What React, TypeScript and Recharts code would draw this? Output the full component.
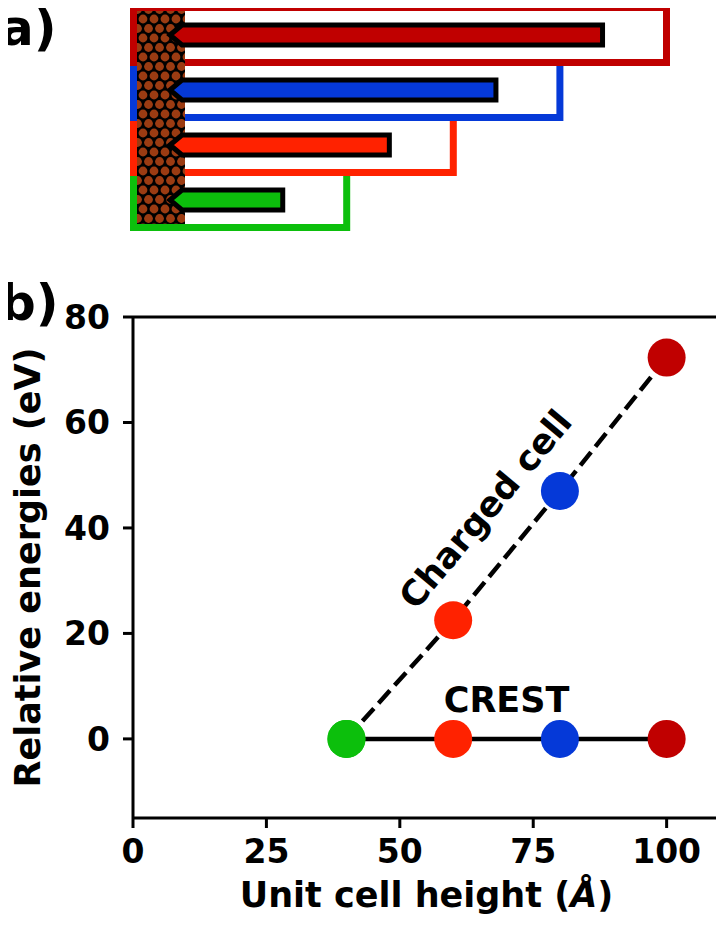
import React from "react";
import {
  BarChart,
  Bar,
  ComposedChart,
  Line,
  Scatter,
  XAxis,
  YAxis,
  ReferenceLine,
  ReferenceDot,
} from "recharts";

// unit cell heights (Å), bottom to top in panel a
const cellHeights = [40, 60, 80, 100];
// length of the arrow drawn inside each cell (Å)
const arrowLengths = [28, 48, 68, 88];
const cellColors = ["#0cbf0c", "#ff2200", "#0539d8", "#c00000"];

// panel b series
const chargedEnergies = [0, 22.5, 47, 72.3];
const crestEnergies = [0, 0, 0, 0];

const xTicks = [0, 25, 50, 75, 100];
const yTicks = [0, 20, 40, 60, 80];

const font = "DejaVu Sans";

const cells = cellHeights.map((h, i) => ({
  cell: h,
  arrow: arrowLengths[i],
  color: cellColors[i],
}));
const charged = cellHeights.map((h, i) => ({ x: h, y: chargedEnergies[i] }));
const crest = cellHeights.map((h, i) => ({ x: h, y: crestEnergies[i] }));
const dots = [
  ...cellHeights.map((h, i) => ({ x: h, y: chargedEnergies[i], color: cellColors[i] })),
  ...cellHeights.map((h, i) => ({ x: h, y: crestEnergies[i], color: cellColors[i] })),
];

function CellBox(props: any) {
  const { x, y, width, height, index, payload } = props;
  const half = 3.5;
  const mid = y + height / 2;
  const right = x + (width * payload.arrow) / payload.cell;
  const hatchTop = y + half;
  const hatchBottom = index === 0 ? y + height - half : y + height + half;
  const pts = [
    [x + 36.5, mid],
    [x + 48.5, mid - 10],
    [right, mid - 10],
    [right, mid + 10],
    [x + 48.5, mid + 10],
  ]
    .map((p) => p.join(","))
    .join(" ");
  return (
    <g>
      <rect x={x} y={y} width={width} height={height} fill="none" stroke={payload.color} strokeWidth={7} />
      <rect x={x + 3.5} y={hatchTop} width={48} height={hatchBottom - hatchTop} fill="url(#electrode)" />
      <polygon points={pts} fill={payload.color} stroke="#000" strokeWidth={5} strokeLinejoin="miter" />
    </g>
  );
}

function Dot(props: any) {
  const { cx, cy, payload } = props;
  return <circle cx={cx} cy={cy} r={19} fill={payload.color} />;
}

function XLabel(props: any) {
  const vb = props.viewBox;
  return (
    <text
      x={vb.x + vb.width / 2}
      y={vb.y + vb.height - 30}
      textAnchor="middle"
      fontFamily={font}
      fontWeight="bold"
      fontSize={35}
      fill="#000"
    >
      Unit cell height (<tspan fontStyle="italic">Å</tspan>)
    </text>
  );
}

const tickStyle = { fill: "#000", fontSize: 33, fontWeight: "bold", fontFamily: font };

export default function App() {
  return (
    <div style={{ position: "relative", width: 724, height: 937, margin: -8, overflow: "hidden", background: "#fff" }}>
      <div style={{ position: "absolute", left: 0, top: 0 }}>
        <BarChart
          width={724}
          height={240}
          data={cells}
          layout="vertical"
          barCategoryGap={0}
          margin={{ top: 7.5, right: 4.2, bottom: 12.5, left: 133.5 }}
        >
          <defs>
            <pattern id="electrode" patternUnits="userSpaceOnUse" width={11} height={19}>
              <rect width={11} height={19} fill="#000" />
              <circle cx={0} cy={0} r={4.4} fill="#9b3b12" />
              <circle cx={11} cy={0} r={4.4} fill="#9b3b12" />
              <circle cx={5.5} cy={9.5} r={4.4} fill="#9b3b12" />
              <circle cx={0} cy={19} r={4.4} fill="#9b3b12" />
              <circle cx={11} cy={19} r={4.4} fill="#9b3b12" />
            </pattern>
          </defs>
          <XAxis type="number" domain={[0, 110]} hide />
          <YAxis type="category" dataKey="cell" reversed hide />
          <Bar dataKey="cell" shape={<CellBox />} isAnimationActive={false} />
        </BarChart>
      </div>

      <div style={{ position: "absolute", left: 0, top: 0 }}>
        <ComposedChart width={724} height={937} margin={{ top: 317, right: 4, bottom: 0, left: 0 }}>
          <XAxis
            type="number"
            dataKey="x"
            domain={[0, 110]}
            ticks={xTicks}
            interval={0}
            height={119}
            tick={tickStyle}
            tickSize={10}
            tickMargin={12}
            axisLine={{ stroke: "#000", strokeWidth: 3 }}
            tickLine={{ stroke: "#000", strokeWidth: 3 }}
            label={(p: any) => <XLabel {...p} />}
          />
          <YAxis
            type="number"
            domain={[-15, 80]}
            ticks={yTicks}
            interval={0}
            width={133}
            tick={tickStyle}
            tickSize={10}
            tickMargin={13}
            axisLine={{ stroke: "#000", strokeWidth: 3 }}
            tickLine={{ stroke: "#000", strokeWidth: 3 }}
            label={{
              value: "Relative energies (eV)",
              angle: -90,
              position: "insideLeft",
              offset: 28,
              fill: "#000",
              fontSize: 35,
              fontWeight: "bold",
              fontFamily: font,
              style: { textAnchor: "middle" },
            }}
          />
          <ReferenceLine y={80} stroke="#000" strokeWidth={3} />
          <ReferenceLine x={110} stroke="#000" strokeWidth={3} />
          <Line
            data={charged}
            dataKey="y"
            type="linear"
            stroke="#000"
            strokeWidth={4.5}
            strokeDasharray="17 7"
            dot={false}
            isAnimationActive={false}
          />
          <Line
            data={crest}
            dataKey="y"
            type="linear"
            stroke="#000"
            strokeWidth={4.5}
            dot={false}
            isAnimationActive={false}
          />
          <Scatter data={dots} dataKey="y" shape={<Dot />} isAnimationActive={false} />
          <ReferenceDot
            x={66}
            y={43.6}
            r={0}
            fill="none"
            stroke="none"
            label={{
              value: "Charged cell",
              position: "center",
              angle: -50,
              fill: "#000",
              fontSize: 35,
              fontWeight: "bold",
              fontFamily: font,
            }}
          />
          <ReferenceDot
            x={70}
            y={7.4}
            r={0}
            fill="none"
            stroke="none"
            label={{
              value: "CREST",
              position: "center",
              fill: "#000",
              fontSize: 35,
              fontWeight: "bold",
              fontFamily: font,
            }}
          />
        </ComposedChart>
      </div>

      <svg width={724} height={937} style={{ position: "absolute", left: 0, top: 0, pointerEvents: "none" }}>
        <text x={0} y={45} fontFamily={font} fontWeight="bold" fontSize={50} fill="#000">
          a)
        </text>
        <text x={0} y={320} fontFamily={font} fontWeight="bold" fontSize={50} fill="#000">
          b)
        </text>
      </svg>
    </div>
  );
}
